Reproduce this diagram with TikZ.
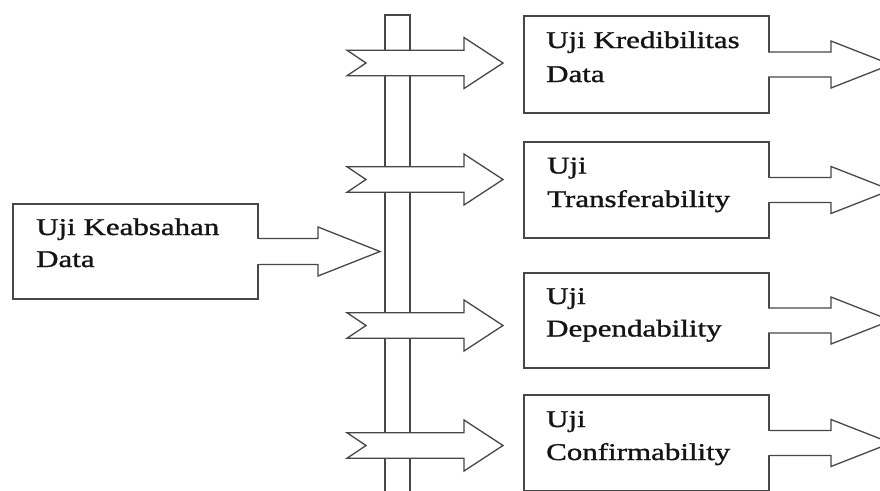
\documentclass[tikz,border=0pt]{standalone}
\usepackage{fontspec}
\setmainfont{Liberation Serif}[FakeStretch=1.29,FakeBold=1.2]
\usetikzlibrary{calc}
\tikzset{
  line/.style={draw=black!72, line width=1.3pt},
  box/.style={line, fill=white, rectangle, inner sep=0pt, outer sep=0pt, anchor=north west},
  lbl/.style={anchor=base west, inner sep=0pt, text=black!92, font=\fontsize{24}{34}\selectfont},
  arrowbody/.style={line, fill=white, line join=miter},
  gap/.style={fill=white},
  notcharrow/.pic={\draw[arrowbody] (0,-12.75) -- ++(117,0) -- ++(0,-12.75) -- ++(39,25.5) -- ++(-39,25.5) -- ++(0,-12.75) -- ++(-117,0) -- ++(19,-12.75) -- cycle;}
}
\begin{document}
\begin{tikzpicture}[x=1pt,y=-1pt]
\useasboundingbox (0,0) rectangle (880,490);
\clip (0,0) rectangle (880,490);
% vertical bar
\node[box, minimum width=25pt, minimum height=500pt] (bar) at (385,15) {};
% boxes
\node[box, minimum width=245pt, minimum height=95pt] (b0) at (13,204) {};
\node[box, minimum width=245pt, minimum height=97pt] (b1) at (524,16) {};
\node[box, minimum width=245pt, minimum height=96pt] (b2) at (524,142) {};
\node[box, minimum width=245pt, minimum height=95pt] (b3) at (524,273) {};
\node[box, minimum width=245pt, minimum height=96pt] (b4) at (524,395) {};
% arrow from the first box to the bar
\draw[arrowbody] ($(b0.east)+(-0.65,-13)$) -- ++(60.65,0) -- ++(0,-11.5) -- ++(62,24.5) -- ++(-62,24.5) -- ++(0,-11.5) -- ++(-60.65,0);
\fill[gap] ($(b0.east)+(-1.2,-12.3)$) rectangle ($(b0.east)+(1.2,12.3)$);
% arrows leaving the right boxes
\draw[arrowbody] ($(b1.east)+(-0.65,-12.5)$) -- ++(62.65,0) -- ++(0,-11) -- ++(60,23.5) -- ++(-60,23.5) -- ++(0,-11) -- ++(-62.65,0);
\fill[gap] ($(b1.east)+(-1.2,-11.8)$) rectangle ($(b1.east)+(1.2,11.8)$);
\draw[arrowbody] ($(b2.east)+(-0.65,-12.5)$) -- ++(62.65,0) -- ++(0,-11) -- ++(60,23.5) -- ++(-60,23.5) -- ++(0,-11) -- ++(-62.65,0);
\fill[gap] ($(b2.east)+(-1.2,-11.8)$) rectangle ($(b2.east)+(1.2,11.8)$);
\draw[arrowbody] ($(b3.east)+(-0.65,-12.5)$) -- ++(62.65,0) -- ++(0,-11) -- ++(60,23.5) -- ++(-60,23.5) -- ++(0,-11) -- ++(-62.65,0);
\fill[gap] ($(b3.east)+(-1.2,-11.8)$) rectangle ($(b3.east)+(1.2,11.8)$);
\draw[arrowbody] ($(b4.east)+(-0.65,-12.5)$) -- ++(62.65,0) -- ++(0,-11) -- ++(60,23.5) -- ++(-60,23.5) -- ++(0,-11) -- ++(-62.65,0);
\fill[gap] ($(b4.east)+(-1.2,-11.8)$) rectangle ($(b4.east)+(1.2,11.8)$);
% notched arrows across the bar
\coordinate (a1) at (347,63);
\coordinate (a2) at (347,179.5);
\coordinate (a3) at (347,325.5);
\coordinate (a4) at (347,445.5);
\pic at (a1) {notcharrow};
\pic at (a2) {notcharrow};
\pic at (a3) {notcharrow};
\pic at (a4) {notcharrow};
% texts
\node[lbl] (t0a) at ($(b0.north west)+(23,31)$) {Uji Keabsahan};
\node[lbl] (t0b) at ($(b0.north west)+(23,63)$) {Data};
\node[lbl] (t1a) at ($(b1.north west)+(22,32)$) {Uji Kredibilitas};
\node[lbl] (t1b) at ($(b1.north west)+(22,66)$) {Data};
\node[lbl] (t2a) at ($(b2.north west)+(23,31.5)$) {Uji};
\node[lbl] (t2b) at ($(b2.north west)+(23,65)$) {Transferability};
\node[lbl] (t3a) at ($(b3.north west)+(22,31)$) {Uji};
\node[lbl] (t3b) at ($(b3.north west)+(22,63.5)$) {Dependability};
\node[lbl] (t4a) at ($(b4.north west)+(22,32)$) {Uji};
\node[lbl] (t4b) at ($(b4.north west)+(22,65)$) {Confirmability};
\end{tikzpicture}
\end{document}
